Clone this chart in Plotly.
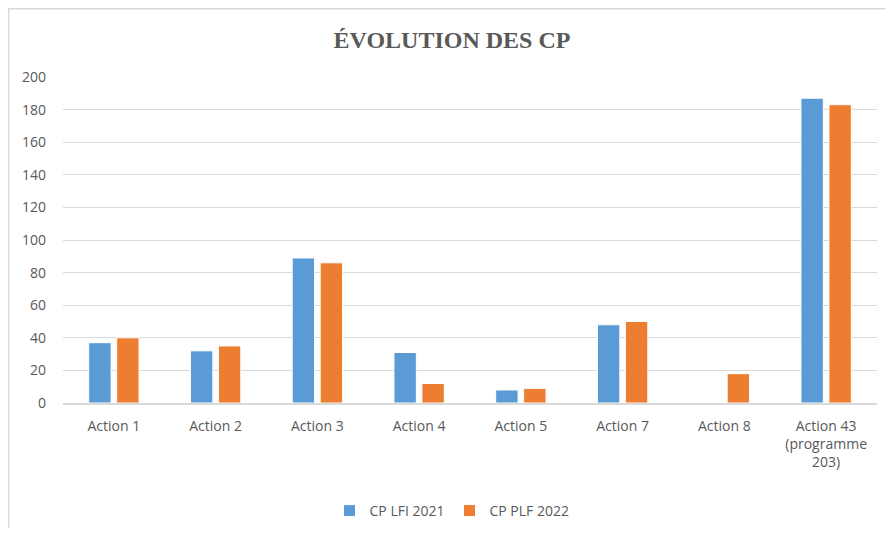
import plotly.graph_objects as go

categories = ["Action 1", "Action 2", "Action 3", "Action 4", "Action 5",
              "Action 7", "Action 8", "Action 43<br>(programme<br>203)"]
cp_lfi_2021 = [37, 32, 89, 31, 8, 48, None, 187]
cp_plf_2022 = [40, 35, 86, 12, 9, 50, 18, 183]
y_ticks = [0, 20, 40, 60, 80, 100, 120, 140, 160, 180, 200]

# page body has an 8px margin; figure coordinates are offset by it
OFF = 8
W, H = 877, 520
L, R, T, B = 63 - OFF, 8, 77 - OFF, 520 - (403 - OFF)
pw, ph = W - L - R, H - T - B

fig = go.Figure()
fig.add_trace(go.Bar(name="CP LFI 2021", x=categories, y=cp_lfi_2021,
                     marker=dict(color="#5b9bd5", line=dict(color="#ffffff", width=1))))
fig.add_trace(go.Bar(name="CP PLF 2022", x=categories, y=cp_plf_2022,
                     marker=dict(color="#ed7d31", line=dict(color="#ffffff", width=1))))

def px(x):
    return (x - OFF - L) / pw

def py(y):
    return (H - B - (y - OFF)) / ph

fig.add_shape(type="rect", xref="paper", yref="paper",
              x0=px(8.7), x1=px(W + 40), y0=py(H + 40), y1=py(8.7),
              line=dict(color="#d9d9d9", width=1.5), fillcolor="rgba(0,0,0,0)", layer="below")

fig.update_layout(
    width=W, height=H,
    margin=dict(l=L, r=R, t=T, b=B, autoexpand=False),
    paper_bgcolor="white", plot_bgcolor="white",
    title=dict(text="<b>ÉVOLUTION DES CP</b>", x=(452 - OFF) / W, xref="container",
               xanchor="center", y=1 - (40 - OFF) / H, yanchor="middle",
               font=dict(family="Liberation Serif", size=24, color="#595959")),
    barmode="group", bargap=0.45, bargroupgap=0.2,
    font=dict(family="Open Sans", size=14, color="#595959"),
    xaxis=dict(showgrid=False, showline=True, linecolor="#d9d9d9", linewidth=1.5,
               ticks="", ticklabelstandoff=9, tickfont=dict(size=14, color="#595959")),
    yaxis=dict(range=[0, 200], tickvals=y_ticks, showgrid=True, gridcolor="#d9d9d9",
               gridwidth=1, zeroline=False, ticks="", showline=False,
               ticklabelstandoff=16, tickfont=dict(size=14, color="#595959")),
    legend=dict(orientation="h", x=(452 - OFF) / W, xref="container", xanchor="center",
                y=1 - (511 - OFF) / H, yref="container", yanchor="middle",
                font=dict(size=14, color="#595959"), itemwidth=30,
                traceorder="normal"),
    showlegend=True,
)

fig.write_html("out.html")
